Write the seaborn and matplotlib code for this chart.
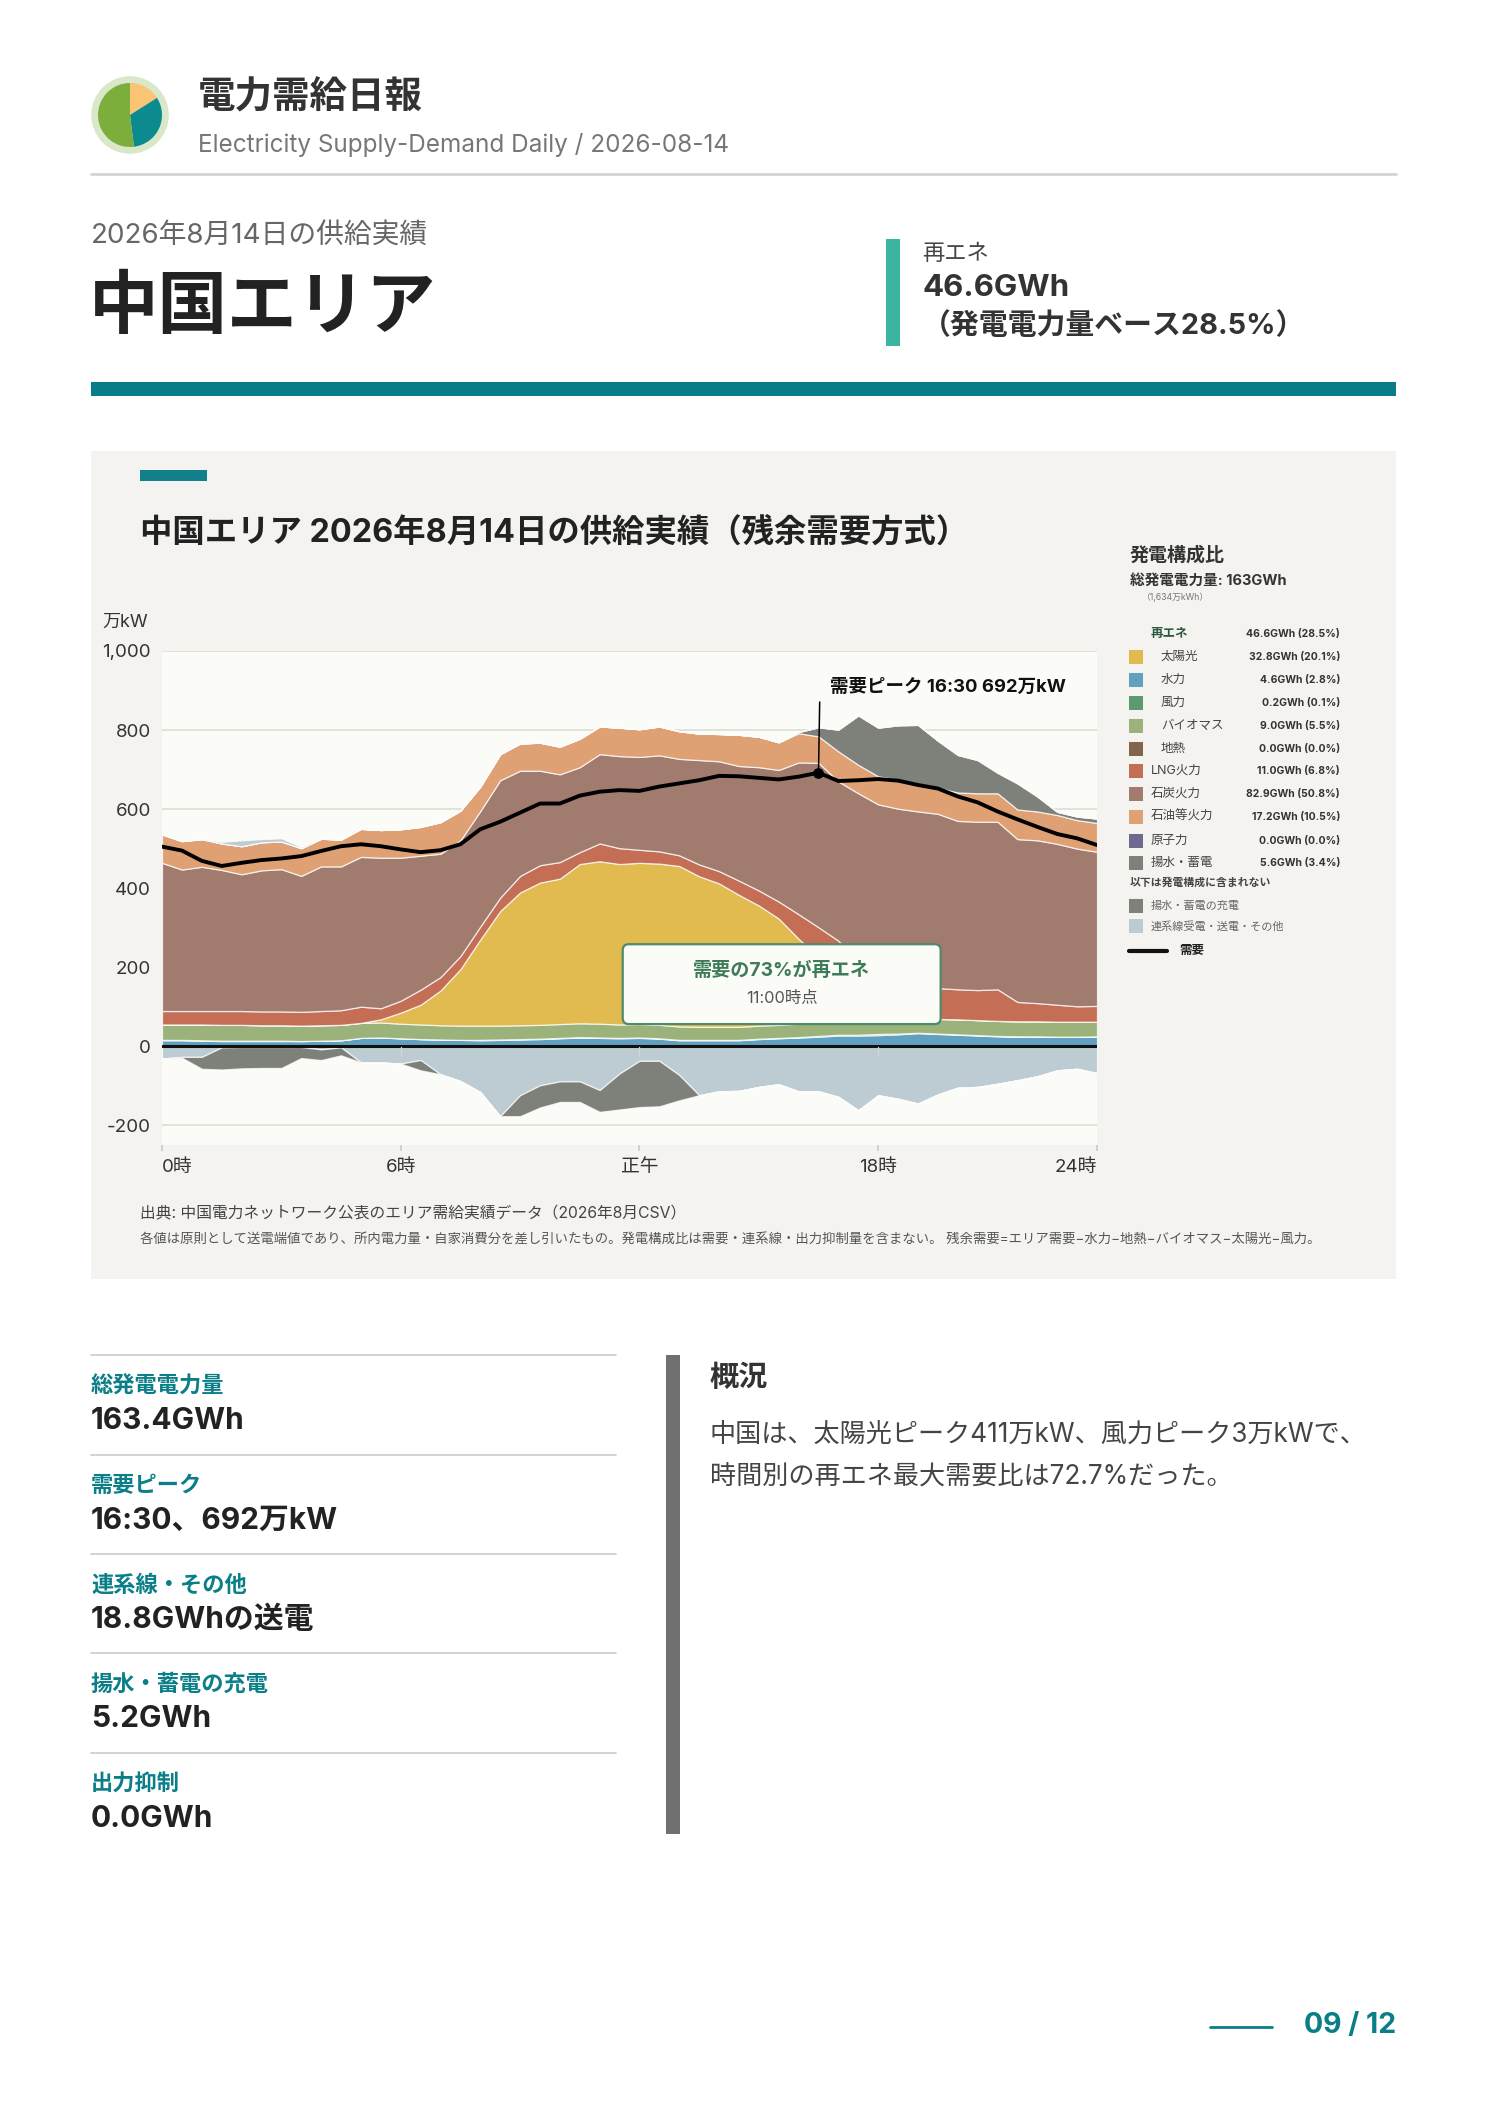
import numpy as np
import matplotlib.pyplot as plt
import seaborn as sns
from matplotlib.patches import Rectangle, FancyBboxPatch, Circle
from matplotlib.lines import Line2D

# 30-minute slots, 0:00 .. 23:30 (unit: 万kW)
hours = np.arange(48) * 0.5

demand = [505, 495, 469, 456, 464, 471, 475, 481, 494, 506, 511, 506,
          498, 491, 496, 511, 549, 568, 591, 614, 614, 634, 644, 648,
          646, 657, 665, 673, 684, 683, 679, 675, 682, 692, 671, 673,
          676, 672, 661, 652, 632, 617, 594, 574, 555, 537, 526, 509]

hydro = [15, 15, 14, 13, 13, 13, 13, 13, 14, 15, 21, 22,
         20, 18, 17, 16, 15, 16, 17, 18, 20, 22, 21, 20,
         21, 19, 15, 15, 15, 15, 18, 20, 22, 24, 27, 27,
         28, 30, 33, 31, 29, 27, 25, 24, 24, 24, 24, 25]
wind = [1, 1, 1, 1, 1, 1, 1, 0, 0, 0, 0, 0,
        0, 0, 0, 0, 1, 1, 1, 1, 1, 1, 1, 1,
        1, 1, 1, 1, 1, 1, 1, 1, 1, 2, 2, 2,
        3, 2, 1, 1, 1, 1, 1, 1, 1, 0, 0, 0]
biomass = [39, 39, 40, 40, 40, 39, 39, 39, 39, 39, 38, 38,
           37, 37, 36, 36, 36, 35, 35, 35, 35, 35, 35, 34,
           34, 34, 34, 33, 33, 33, 33, 33, 34, 35, 35, 36,
           37, 37, 37, 37, 38, 38, 38, 38, 38, 38, 38, 37]
geothermal = [0] * 48
solar = [0, 0, 0, 0, 0, 0, 0, 0, 0, 0, 0, 8,
         28, 50, 88, 143, 218, 290, 336, 360, 368, 403, 411, 406,
         408, 408, 406, 381, 363, 334, 304, 269, 215, 165, 115, 60,
         25, 8, 0, 0, 0, 0, 0, 0, 0, 0, 0, 0]
lng = [34, 34, 34, 35, 35, 35, 35, 35, 36, 37, 41, 28,
       30, 38, 34, 33, 33, 34, 42, 44, 42, 30, 45, 40,
       33, 31, 27, 30, 31, 36, 38, 43, 62, 75, 88, 90,
       90, 85, 80, 78, 76, 76, 80, 49, 46, 43, 39, 40]
coal = [375, 358, 365, 357, 346, 357, 360, 344, 366, 364, 379, 381,
        362, 339, 312, 293, 292, 297, 266, 239, 222, 215, 226, 233,
        235, 243, 244, 264, 278, 290, 312, 333, 384, 416, 403, 425,
        429, 439, 443, 441, 426, 426, 424, 412, 412, 407, 399, 390]
oil = [72, 72, 70, 67, 71, 71, 70, 70, 70, 68, 71, 70,
       72, 73, 80, 75, 62, 66, 69, 71, 70, 72, 70, 72,
       70, 73, 70, 67, 69, 79, 77, 70, 74, 67, 76, 72,
       71, 74, 70, 66, 72, 72, 72, 75, 73, 73, 72, 73]
nuclear = [0] * 48
pumped_gen = [0] * 32 + [3, 23, 55, 125, 123, 137, 149, 119, 95, 84, 52, 66, 38, 8, 9, 11]
tie_in = [0, 0, 0, 4, 15, 8, 8, 3] + [0] * 40
# below zero (magnitudes)
tie_out = [31, 27, 27, 3, 2, 2, 2, 2, 8, 3, 41, 41,
           44, 35, 71, 88, 116, 177, 124, 99, 89, 89, 111, 69,
           37, 37, 73, 124, 114, 113, 103, 96, 114, 114, 128, 162,
           124, 133, 145, 122, 105, 103, 95, 86, 76, 61, 57, 68]
pumped_charge = [0, 2, 30, 56, 54, 53, 53, 28, 27, 20, 0, 0,
                 0, 26, 0, 0, 0, 0, 53, 56, 52, 52, 55, 91,
                 117, 115, 64, 0, 0, 0, 0, 0, 0, 0, 0, 0,
                 0, 0, 0, 0, 0, 0, 0, 0, 0, 0, 0, 0]

peak_hour, peak_value = 16.5, 692

x_ticks = [0, 6, 12, 18, 23.5]
x_labels = ['0時', '6時', '正午', '18時', '24時']
y_ticks = [-200, 0, 200, 400, 600, 800, 1000]

colors = {
    'solar': '#e2bb50', 'hydro': '#62a0c0', 'wind': '#5b9a6e', 'biomass': '#9bb37a',
    'geo': '#80664f', 'lng': '#c46e56', 'coal': '#a07b6e', 'oil': '#dfa074',
    'nuclear': '#6f6990', 'pumped': '#7e807a', 'tie': '#bdcbd2',
}

legend_names = ['太陽光', '水力', '風力', 'バイオマス', '地熱', 'LNG火力', '石炭火力', '石油等火力', '原子力', '揚水・蓄電']
legend_keys = ['solar', 'hydro', 'wind', 'biomass', 'geo', 'lng', 'coal', 'oil', 'nuclear', 'pumped']
legend_values = ['32.8GWh (20.1%)', '4.6GWh (2.8%)', '0.2GWh (0.1%)', '9.0GWh (5.5%)', '0.0GWh (0.0%)',
                 '11.0GWh (6.8%)', '82.9GWh (50.8%)', '17.2GWh (10.5%)', '0.0GWh (0.0%)', '5.6GWh (3.4%)']

stat_labels = ['総発電電力量', '需要ピーク', '連系線・その他', '揚水・蓄電の充電', '出力抑制']
stat_values = ['163.4GWh', '16:30、692万kW', '18.8GWhの送電', '5.2GWh', '0.0GWh']

sns.set_theme(style='white')
plt.rcParams['font.family'] = ['Inter', 'Noto Sans CJK JP', 'DejaVu Sans']

W, H = 1488, 2105
fig = plt.figure(figsize=(W / 100, H / 100), dpi=100)
fig.patch.set_facecolor('white')


def T(x, y, s, **kw):
    kw.setdefault('va', 'center')
    return fig.text(x / W, 1 - y / H, s, **kw)


def box(x0, y0, x1, y1, color, z=-5):
    fig.add_artist(Rectangle((x0 / W, 1 - y1 / H), (x1 - x0) / W, (y1 - y0) / H,
                             transform=fig.transFigure, color=color, zorder=z, lw=0))


def hline(x0, x1, y, color, lw):
    fig.add_artist(Line2D([x0 / W, x1 / W], [1 - y / H, 1 - y / H], transform=fig.transFigure,
                          color=color, lw=lw))


# header
lax = fig.add_axes([(130 - 40) / W, 1 - (115 + 40) / H, 80 / W, 80 / H])
lax.add_patch(Circle((0, 0), 1.0, color='#d9e8c9'))
lax.pie([0.16, 0.32, 0.52], colors=['#f9c474', '#0b8a8f', '#7bae3a'], startangle=90,
        counterclock=False, radius=0.84, wedgeprops=dict(lw=0))
lax.set_xlim(-1.05, 1.05)
lax.set_ylim(-1.05, 1.05)
lax.set_aspect('equal')
lax.axis('off')

T(198, 97, '電力需給日報', fontsize=27, fontweight='bold', color='#333333')
T(198, 145, 'Electricity Supply-Demand Daily / 2026-08-14', fontsize=17.5, color='#777777')
hline(91, 1396, 174, '#d4d4d4', 2)

T(91, 237, '2026年8月14日の供給実績', fontsize=20, color='#666666')
T(89, 309, '中国エリア', fontsize=50, fontweight='bold', color='#222222')
box(886, 239, 900, 346, '#3bb5a0')
T(922, 254, '再エネ', fontsize=16, color='#444444')
T(922, 288, '46.6GWh', fontsize=22.5, fontweight='bold', color='#333333')
T(922, 326, '（発電電力量ベース28.5%）', fontsize=20.8, fontweight='bold', color='#333333')
box(91, 382, 1396, 396, '#087d87')

# chart panel
box(91, 451, 1396, 1279, '#f4f3ef')
box(140, 470, 207, 481, '#12808a', z=-4)
T(140, 533, '中国エリア 2026年8月14日の供給実績（残余需要方式）', fontsize=23.3, fontweight='bold', color='#222222')
T(102, 622, '万kW', fontsize=13, color='#333333')

ax = fig.add_axes([162 / W, 1 - 1145 / H, 935 / W, 494 / H])
ax.set_facecolor('#fbfbf8')

pos_layers = [('hydro', hydro), ('wind', wind), ('biomass', biomass), ('geo', geothermal),
              ('solar', solar), ('lng', lng), ('coal', coal), ('oil', oil),
              ('nuclear', nuclear), ('pumped', pumped_gen), ('tie', tie_in)]
base = np.zeros(48)
for key, vals in pos_layers:
    vals = np.array(vals, dtype=float)
    if vals.sum() > 0:
        ax.fill_between(hours, base, base + vals, facecolor=colors[key],
                        edgecolor=(1, 1, 1, 0.75), lw=0.9, zorder=2)
    base = base + vals

neg_layers = [('tie', tie_out), ('pumped', pumped_charge)]
base = np.zeros(48)
for key, vals in neg_layers:
    vals = np.array(vals, dtype=float)
    ax.fill_between(hours, base, base - vals, facecolor=colors[key],
                    edgecolor=(1, 1, 1, 0.75), lw=0.9, zorder=2)
    base = base - vals

ax.axhline(0, color='#111111', lw=2.2, zorder=3)
for h in [6, 12, 18]:
    ax.plot([h, h], [-3, -22], color='#d6d6d0', lw=1, zorder=3)

sns.lineplot(x=hours, y=demand, ax=ax, color='black', lw=2.8, zorder=4)
ax.scatter([peak_hour], [peak_value], s=45, color='black', zorder=5)
ax.plot([peak_hour, peak_hour + 0.03], [peak_value, 871], color='black', lw=1.1, zorder=5)
ax.text(peak_hour + 0.3, 909, '需要ピーク 16:30 692万kW', fontsize=13.3, fontweight='bold',
        color='#111111', ha='left', va='center', zorder=6)

ax.add_patch(FancyBboxPatch((11.58, 56), 7.99, 202, boxstyle='round,pad=0,rounding_size=0.15',
                            mutation_aspect=100, fc='#fbfbf7', ec='#4f8a69', lw=1.6, zorder=6))
ax.text(15.58, 192, '需要の73%が再エネ', fontsize=13.8, fontweight='bold', color='#3e7c59',
        ha='center', va='center', zorder=7)
ax.text(15.58, 121, '11:00時点', fontsize=11.8, color='#555555', ha='center', va='center', zorder=7)

ax.set_xlim(0, 23.5)
ax.set_ylim(-250, 1000)
ax.set_yticks(y_ticks)
ax.set_yticklabels([f'{v:,}' for v in y_ticks])
ax.set_xticks(x_ticks)
ax.set_xticklabels(x_labels)
ax.grid(axis='y', color='#e0e0da', lw=1.3, zorder=0)
ax.grid(axis='x', visible=False)
ax.set_axisbelow(True)
for s in ax.spines.values():
    s.set_visible(False)
ax.tick_params(axis='y', length=0, pad=8, labelsize=13.5, labelcolor='#333333')
ax.tick_params(axis='x', bottom=True, length=4, color='#cccccc', pad=6, labelsize=13.5, labelcolor='#333333')
xl = ax.get_xticklabels()
xl[0].set_ha('left')
xl[-1].set_ha('right')
ax.set_xlabel('')
ax.set_ylabel('')

T(140, 1214, '出典: 中国電力ネットワーク公表のエリア需給実績データ（2026年8月CSV）', fontsize=11.3, color='#444444')
T(140, 1240, '各値は原則として送電端値であり、所内電力量・自家消費分を差し引いたもの。発電構成比は需要・連系線・出力抑制量を含まない。 '
   '残余需要=エリア需要−水力−地熱−バイオマス−太陽光−風力。', fontsize=9.6, color='#555555')

# legend
T(1130, 555, '発電構成比', fontsize=13.7, fontweight='bold', color='#333333')
T(1130, 581, '総発電電力量: 163GWh', fontsize=10.5, fontweight='bold', color='#333333')
T(1142, 597, '（1,634万kWh）', fontsize=6.3, color='#777777')
T(1151, 634, '再エネ', fontsize=9, fontweight='bold', color='#2d5a3f')
T(1340, 634, '46.6GWh (28.5%)', fontsize=7.5, fontweight='bold', color='#333333', ha='right')
row_y = [657, 680, 703, 726, 749, 771, 794, 817, 841, 863]
for i, (name, key, val) in enumerate(zip(legend_names, legend_keys, legend_values)):
    y = row_y[i]
    box(1129, y - 7, 1143, y + 7, colors[key], z=2)
    lx = 1161 if i < 5 else 1151
    T(lx, y, name, fontsize=9, color='#444444')
    T(1340, y, val, fontsize=7.5, fontweight='bold', color='#333333', ha='right')
T(1130, 882, '以下は発電構成に含まれない', fontsize=7.8, fontweight='bold', color='#444444')
box(1129, 899, 1143, 913, colors['pumped'], z=2)
T(1151, 906, '揚水・蓄電の充電', fontsize=8, color='#666666')
box(1129, 919, 1143, 933, colors['tie'], z=2)
T(1151, 926, '連系線受電・送電・その他', fontsize=8, color='#666666')
hline(1129, 1167, 951, '#111111', 3)
T(1179, 951, '需要', fontsize=9, fontweight='bold', color='#222222')

# bottom stats
line_y = [1355, 1455, 1554, 1653, 1753]
for i, (lab, val) in enumerate(zip(stat_labels, stat_values)):
    y = line_y[i]
    hline(91, 616, y, '#cfcfcf', 1.3)
    T(91, y + 31, lab, fontsize=16, fontweight='bold', color='#0b7f88')
    T(91, y + 66, val, fontsize=21.5, fontweight='bold', color='#222222')

box(666, 1355, 680, 1834, '#707073')
T(710, 1378, '概況', fontsize=21, fontweight='bold', color='#333333')
T(710, 1435, '中国は、太陽光ピーク411万kW、風力ピーク3万kWで、', fontsize=18.8, color='#444444')
T(710, 1478, '時間別の再エネ最大需要比は72.7%だった。', fontsize=18.8, color='#444444')

hline(1210, 1272, 2027, '#0b7f88', 2)
T(1396, 2026, '09 / 12', fontsize=20.5, fontweight='bold', color='#0b7f88', ha='right')

fig.savefig('out.png', dpi=100, facecolor='white')
